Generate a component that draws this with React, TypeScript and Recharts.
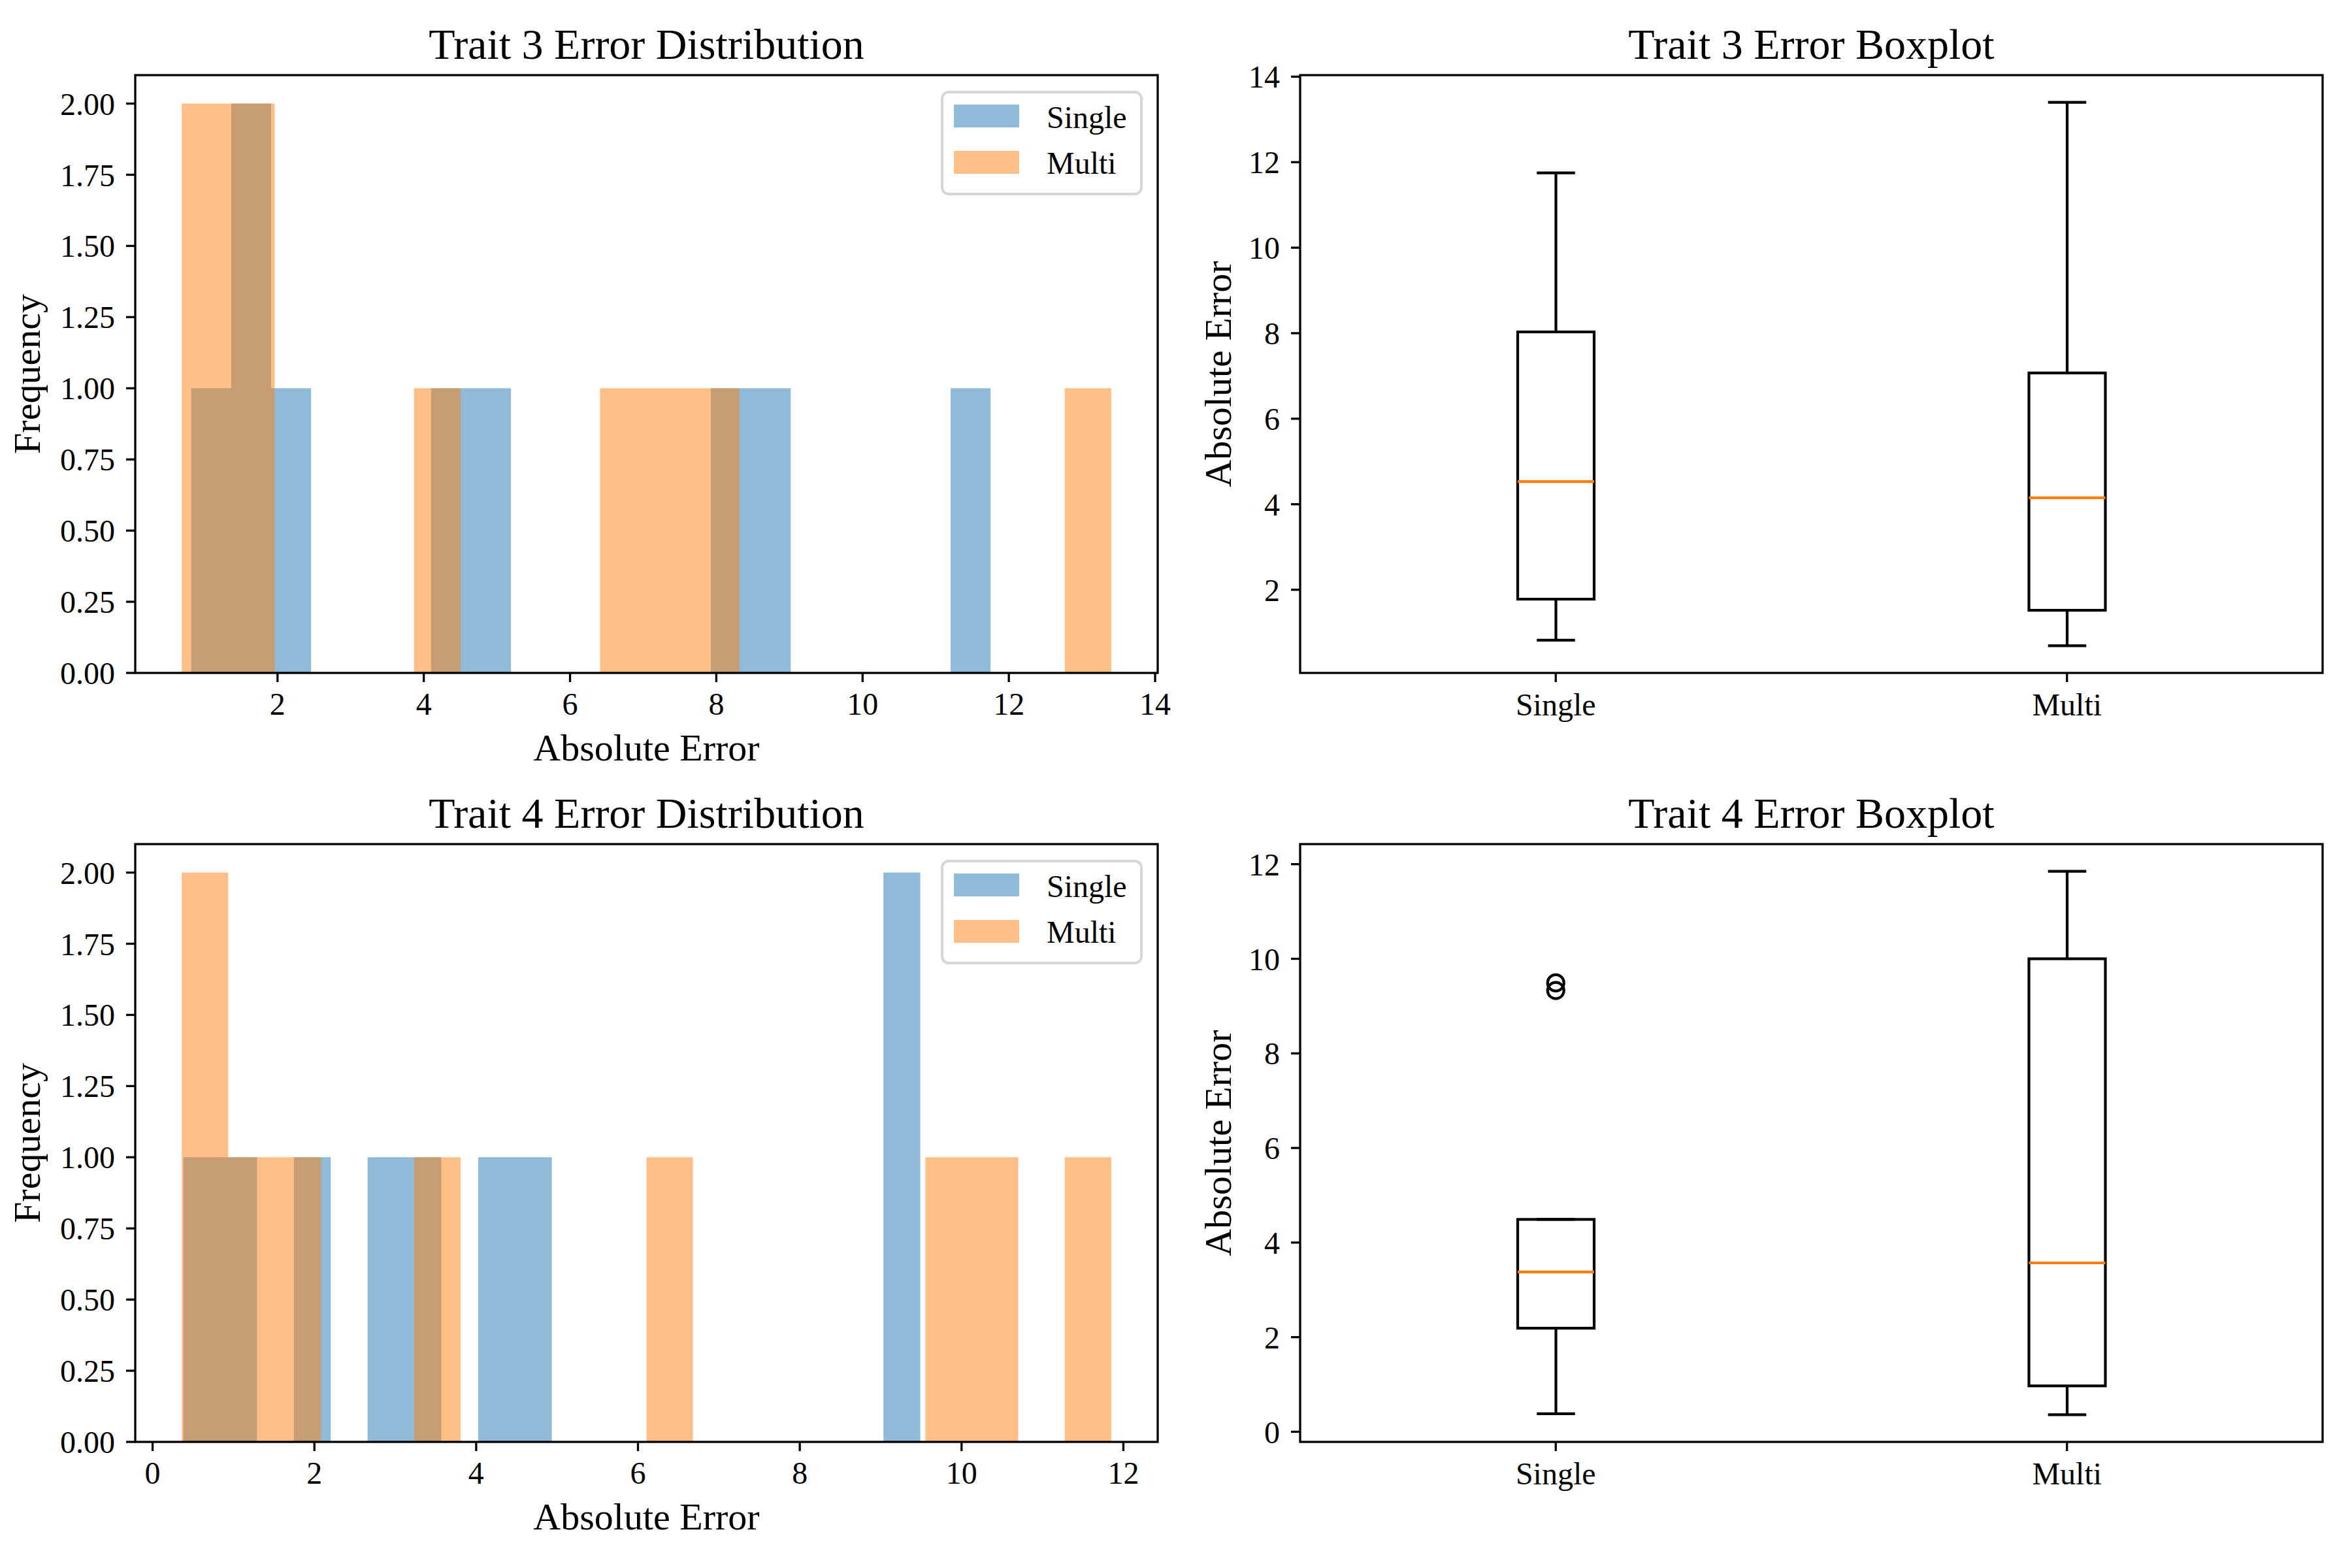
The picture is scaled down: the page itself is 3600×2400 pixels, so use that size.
import React from 'react';
import { ComposedChart, Area, Bar, Scatter, XAxis, YAxis } from 'recharts';

const FONT = "'Liberation Serif', 'Times New Roman', Times, serif";
const BLUE = '#1f77b4';
const ORANGE = '#ff7f0e';

const methods = ['Single', 'Multi'];
const methodColors = [BLUE, ORANGE];

// 20 equal-width bins between [first edge, last edge]
const trait3SingleRange = [0.82, 11.75];
const trait3SingleCounts = [1, 2, 1, 0, 0, 0, 1, 1, 0, 0, 0, 0, 0, 1, 1, 0, 0, 0, 0, 1];
const trait3MultiRange = [0.69, 13.4];
const trait3MultiCounts = [2, 2, 0, 0, 0, 1, 0, 0, 0, 1, 1, 1, 0, 0, 0, 0, 0, 0, 0, 1];

const trait4SingleRange = [0.38, 9.49];
const trait4SingleCounts = [1, 1, 0, 1, 0, 1, 1, 0, 1, 1, 0, 0, 0, 0, 0, 0, 0, 0, 0, 2];
const trait4MultiRange = [0.36, 11.85];
const trait4MultiCounts = [2, 1, 1, 0, 0, 1, 0, 0, 0, 0, 1, 0, 0, 0, 0, 0, 1, 1, 0, 1];

// box stats: [lower whisker, q1, median, q3, upper whisker]
const trait3SingleBox = [0.82, 1.78, 4.53, 8.03, 11.75];
const trait3MultiBox = [0.69, 1.52, 4.15, 7.07, 13.4];
const trait4SingleBox = [0.38, 2.19, 3.38, 4.49, 4.49];
const trait4MultiBox = [0.36, 0.97, 3.57, 10.0, 11.85];
const trait4SingleOutliers = [9.33, 9.49];

const freqTicks = [0, 0.25, 0.5, 0.75, 1, 1.25, 1.5, 1.75, 2];
const trait3Ticks = [2, 4, 6, 8, 10, 12, 14];
const trait4Ticks = [0, 2, 4, 6, 8, 10, 12];

// layout (px)
const PLOT_W = 1565;
const PLOT_H = 915;
const COL_X = [207, 1990];
const ROW_Y = [115, 1292];
const LINE = 3.3;
const BOX_LINE = 4.2;

const tickStyle = { fontSize: 48, fill: '#000', fontFamily: FONT };
const tickLineStyle = { stroke: '#000', strokeWidth: LINE };

const withMargin = (lo: number, hi: number) => {
    const r = hi - lo;
    return [lo - 0.05 * r, hi + 0.05 * r];
};

const histSteps = (range: number[], counts: number[]) => {
    const w = (range[1] - range[0]) / counts.length;
    const pts = counts.map((c, i) => ({ x: range[0] + i * w, y: c }));
    pts.push({ x: range[1], y: counts[counts.length - 1] });
    return pts;
};

const chartBox = (col: number, row: number) => {
    const left = col * 1800;
    const top = row * 1200;
    const yAxisW = COL_X[col] - left;
    const marginTop = ROW_Y[row] - top;
    return {
        left,
        top,
        yAxisW,
        marginTop,
        xAxisH: 1200 - marginTop - PLOT_H,
        marginRight: 1800 - yAxisW - PLOT_W,
    };
};

interface HistProps {
    col: number;
    row: number;
    ranges: number[][];
    counts: number[][];
    ticks: number[];
}

const HistChart: React.FC<HistProps> = ({ col, row, ranges, counts, ticks }) => {
    const b = chartBox(col, row);
    const domain = withMargin(Math.min(...ranges.map(r => r[0])), Math.max(...ranges.map(r => r[1])));
    return (
        <div style={{ position: 'absolute', left: b.left, top: b.top }}>
            <ComposedChart width={1800} height={1200} margin={{ top: b.marginTop, right: b.marginRight, bottom: 0, left: 0 }}>
                <XAxis
                    type="number"
                    dataKey="x"
                    domain={domain}
                    allowDataOverflow
                    ticks={ticks}
                    interval={0}
                    height={b.xAxisH}
                    tickSize={14}
                    tickMargin={16}
                    tick={tickStyle}
                    tickLine={tickLineStyle}
                    axisLine={false}
                />
                <YAxis
                    type="number"
                    domain={[0, 2.1]}
                    allowDataOverflow
                    ticks={freqTicks}
                    interval={0}
                    width={b.yAxisW}
                    tickSize={14}
                    tickMargin={17}
                    tick={tickStyle}
                    tickLine={tickLineStyle}
                    axisLine={false}
                    tickFormatter={(v: number) => Number(v).toFixed(2)}
                />
                {methods.map((m, i) => (
                    <Area
                        key={m}
                        name={m}
                        data={histSteps(ranges[i], counts[i])}
                        dataKey="y"
                        type="stepAfter"
                        fill={methodColors[i]}
                        fillOpacity={0.5}
                        stroke="none"
                        dot={false}
                        activeDot={false}
                        isAnimationActive={false}
                    />
                ))}
            </ComposedChart>
        </div>
    );
};

const BoxShape = (props: any) => {
    const { x, y, width, height, payload } = props;
    if (!payload || !payload.stats) return null;
    const [lo, q1, med, q3, hi] = payload.stats;
    const top = Math.min(y, y + height);
    const h = Math.abs(height);
    const ppu = h / (q3 - q1);
    const yOf = (v: number) => top + (q3 - v) * ppu;
    const cx = x + width / 2;
    const cap = width / 4;
    return (
        <g>
            <line x1={cx} x2={cx} y1={yOf(q1)} y2={yOf(lo)} stroke="#000" strokeWidth={BOX_LINE} />
            <line x1={cx} x2={cx} y1={yOf(q3)} y2={yOf(hi)} stroke="#000" strokeWidth={BOX_LINE} />
            <line x1={cx - cap} x2={cx + cap} y1={yOf(lo)} y2={yOf(lo)} stroke="#000" strokeWidth={BOX_LINE} />
            <line x1={cx - cap} x2={cx + cap} y1={yOf(hi)} y2={yOf(hi)} stroke="#000" strokeWidth={BOX_LINE} />
            <rect x={x} y={top} width={width} height={h} fill="none" stroke="#000" strokeWidth={BOX_LINE} />
            <line x1={x} x2={x + width} y1={yOf(med)} y2={yOf(med)} stroke={ORANGE} strokeWidth={BOX_LINE} />
        </g>
    );
};

const FlierShape = (props: any) => (
    <circle cx={props.cx} cy={props.cy} r={12.5} fill="none" stroke="#000" strokeWidth={BOX_LINE} />
);

interface BoxProps {
    col: number;
    row: number;
    boxes: number[][];
    outliers: number[];
    ticks: number[];
}

const BoxChart: React.FC<BoxProps> = ({ col, row, boxes, outliers, ticks }) => {
    const b = chartBox(col, row);
    const rows = methods.map((m, i) => ({ name: m, stats: boxes[i], box: [boxes[i][1], boxes[i][3]] }));
    const all = boxes.flat().concat(outliers);
    const domain = withMargin(Math.min(...all), Math.max(...all));
    const fliers = outliers.map(v => ({ name: methods[0], v }));
    return (
        <div style={{ position: 'absolute', left: b.left, top: b.top }}>
            <ComposedChart width={1800} height={1200} data={rows} margin={{ top: b.marginTop, right: b.marginRight, bottom: 0, left: 0 }}>
                <XAxis
                    type="category"
                    dataKey="name"
                    allowDuplicatedCategory={false}
                    height={b.xAxisH}
                    tickSize={14}
                    tickMargin={17}
                    tick={tickStyle}
                    tickLine={tickLineStyle}
                    axisLine={false}
                    interval={0}
                />
                <YAxis
                    type="number"
                    domain={domain}
                    allowDataOverflow
                    ticks={ticks}
                    interval={0}
                    width={b.yAxisW}
                    tickSize={14}
                    tickMargin={17}
                    tick={tickStyle}
                    tickLine={tickLineStyle}
                    axisLine={false}
                />
                <Bar dataKey="box" barSize={117} shape={BoxShape} isAnimationActive={false} />
                {fliers.length > 0 && (
                    <Scatter data={fliers} dataKey="v" shape={FlierShape} isAnimationActive={false} />
                )}
            </ComposedChart>
        </div>
    );
};

const Legend = ({ col, row }: { col: number; row: number }) => {
    const x = COL_X[col] + PLOT_W - 25 - 305;
    const y = ROW_Y[row] + 26;
    return (
        <g>
            <rect x={x} y={y} width={305} height={156} rx={10} fill="#fff" fillOpacity={0.8} stroke="#d6d6d6" strokeWidth={4} />
            {methods.map((m, i) => (
                <g key={m}>
                    <rect x={x + 18} y={y + 19 + i * 71} width={100} height={35} fill={methodColors[i]} fillOpacity={0.5} />
                    <text x={x + 160} y={y + 55 + i * 70} fontSize={48} fontFamily={FONT} fill="#000">{m}</text>
                </g>
            ))}
        </g>
    );
};

const titles = [
    ['Trait 3 Error Distribution', 'Trait 3 Error Boxplot'],
    ['Trait 4 Error Distribution', 'Trait 4 Error Boxplot'],
];
const yLabels = ['Frequency', 'Absolute Error'];
const yLabelX = [61, 1884];

const Decorations = () => (
    <svg width={3600} height={2400} style={{ position: 'absolute', left: 0, top: 0, pointerEvents: 'none' }}>
        {[0, 1].map(row =>
            [0, 1].map(col => {
                const px = COL_X[col];
                const py = ROW_Y[row];
                const cx = px + PLOT_W / 2;
                const cy = py + PLOT_H / 2;
                return (
                    <g key={`${row}-${col}`}>
                        <rect x={px} y={py} width={PLOT_W} height={PLOT_H} fill="none" stroke="#000" strokeWidth={LINE} />
                        <text x={cx} y={py - 25} textAnchor="middle" fontSize={66} fontFamily={FONT} fill="#000">
                            {titles[row][col]}
                        </text>
                        <text
                            x={yLabelX[col]}
                            y={cy}
                            textAnchor="middle"
                            fontSize={58}
                            fontFamily={FONT}
                            fill="#000"
                            transform={`rotate(-90 ${yLabelX[col]} ${cy})`}
                        >
                            {yLabels[col]}
                        </text>
                        {col === 0 && (
                            <text x={cx} y={py + PLOT_H + 134} textAnchor="middle" fontSize={58} fontFamily={FONT} fill="#000">
                                Absolute Error
                            </text>
                        )}
                        {col === 0 && <Legend col={col} row={row} />}
                    </g>
                );
            })
        )}
    </svg>
);

export default function App() {
    return (
        <div style={{ position: 'absolute', left: 0, top: 0, width: 3600, height: 2400, background: '#fff', fontFamily: FONT }}>
            <HistChart
                col={0}
                row={0}
                ranges={[trait3SingleRange, trait3MultiRange]}
                counts={[trait3SingleCounts, trait3MultiCounts]}
                ticks={trait3Ticks}
            />
            <BoxChart col={1} row={0} boxes={[trait3SingleBox, trait3MultiBox]} outliers={[]} ticks={trait3Ticks} />
            <HistChart
                col={0}
                row={1}
                ranges={[trait4SingleRange, trait4MultiRange]}
                counts={[trait4SingleCounts, trait4MultiCounts]}
                ticks={trait4Ticks}
            />
            <BoxChart col={1} row={1} boxes={[trait4SingleBox, trait4MultiBox]} outliers={trait4SingleOutliers} ticks={trait4Ticks} />
            <Decorations />
        </div>
    );
}
